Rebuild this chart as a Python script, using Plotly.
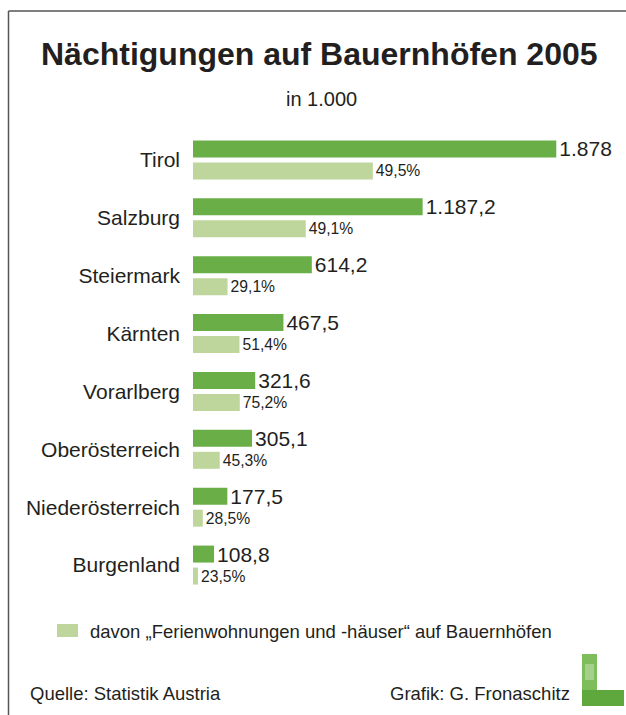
import plotly.graph_objects as go

# ---- data ----
regions = ["Tirol", "Salzburg", "Steiermark", "Kärnten", "Vorarlberg",
           "Oberösterreich", "Niederösterreich", "Burgenland"]
total_nights = [1878, 1187.2, 614.2, 467.5, 321.6, 305.1, 177.5, 108.8]   # in 1.000
share_holiday_pct = [49.5, 49.1, 29.1, 51.4, 75.2, 45.3, 28.5, 23.5]      # % Ferienwohnungen/-häuser

holiday_nights = [t * p / 100 for t, p in zip(total_nights, share_holiday_pct)]


def de_num(v):
    if float(v).is_integer():
        s = f"{int(v):,}"
    else:
        s = f"{v:,.1f}"
    return s.replace(",", "X").replace(".", ",").replace("X", ".")


total_text = [de_num(v) for v in total_nights]
pct_text = [f"{p:.1f}".replace(".", ",") + "%" for p in share_holiday_pct]

DARK = "#6aae47"
LIGHT = "#bed69b"
TXT = "#231f20"
FONT = "Liberation Sans, Arial, sans-serif"

W, H = 626, 715
ML, MR, MT, MB = 193, 20, 131, 121
PW, PH = W - ML - MR, H - MT - MB


def px(x):
    return (x - ML) / PW


def py(y):
    return (H - MB - y) / PH


fig = go.Figure()
fig.add_trace(go.Bar(
    y=regions, x=total_nights, orientation="h", marker=dict(color=DARK, line_width=0),
    text=total_text, textposition="outside", cliponaxis=False, constraintext="none",
    textfont=dict(size=21, color=TXT, family=FONT), hoverinfo="skip", showlegend=False,
))
fig.add_trace(go.Bar(
    y=regions, x=holiday_nights, orientation="h", marker=dict(color=LIGHT, line_width=0),
    text=pct_text, textposition="outside", cliponaxis=False, constraintext="none",
    textfont=dict(size=15.7, color=TXT, family=FONT), hoverinfo="skip", showlegend=False,
))

shapes = [
    # frame lines
    dict(type="line", xref="paper", yref="paper", x0=px(8.5), x1=px(W), y0=py(11), y1=py(11),
         line=dict(color="#555555", width=1.5)),
    dict(type="line", xref="paper", yref="paper", x0=px(8.5), x1=px(8.5), y0=py(11), y1=py(H),
         line=dict(color="#555555", width=1.5)),
    # legend swatch
    dict(type="rect", xref="paper", yref="paper", x0=px(57), x1=px(78), y0=py(624), y1=py(637),
         fillcolor=LIGHT, line_width=0),
    # logo "L"
    dict(type="rect", xref="paper", yref="paper", x0=px(582), x1=px(597), y0=py(654), y1=py(706),
         fillcolor="#7dbd5c", line_width=0),
    dict(type="rect", xref="paper", yref="paper", x0=px(582), x1=px(624), y0=py(690), y1=py(706),
         fillcolor="#5fa83e", line_width=0),
    dict(type="rect", xref="paper", yref="paper", x0=px(585), x1=px(594), y0=py(664), y1=py(680),
         fillcolor="#b5d89c", line_width=0, opacity=0.7),
]

annotations = [
    dict(text="<b>Nächtigungen auf Bauernhöfen 2005</b>", x=px(319), y=py(54),
         font=dict(size=32, color=TXT, family=FONT)),
    dict(text="in 1.000", x=px(321), y=py(99), font=dict(size=20, color=TXT, family=FONT)),
    dict(text="davon „Ferienwohnungen und -häuser“ auf Bauernhöfen", x=px(88), y=py(631),
         xanchor="left", font=dict(size=18.5, color=TXT, family=FONT)),
    dict(text="Quelle: Statistik Austria", x=px(28), y=py(693), xanchor="left",
         font=dict(size=18.5, color=TXT, family=FONT)),
    dict(text="Grafik: G. Fronaschitz", x=px(572), y=py(693), xanchor="right",
         font=dict(size=18.5, color=TXT, family=FONT)),
]
for a in annotations:
    a.update(xref="paper", yref="paper", showarrow=False, yanchor=a.get("yanchor", "middle"),
             xanchor=a.get("xanchor", "center"))

fig.update_layout(
    width=W, height=H, margin=dict(l=ML, r=MR, t=MT, b=MB),
    paper_bgcolor="white", plot_bgcolor="white",
    barmode="group", bargap=0.24, bargroupgap=0.227,
    xaxis=dict(visible=False, range=[0, 2135], fixedrange=True),
    yaxis=dict(categoryorder="array", categoryarray=regions, autorange="reversed",
               showgrid=False, showline=False, zeroline=False, ticks="", fixedrange=True,
               ticklabelstandoff=12, tickfont=dict(size=21, color=TXT, family=FONT)),
    shapes=shapes, annotations=annotations, showlegend=False,
)

fig.write_html("out.html", config={"displayModeBar": False},
               post_script="document.body.style.margin='0';document.body.style.overflow='hidden';")
